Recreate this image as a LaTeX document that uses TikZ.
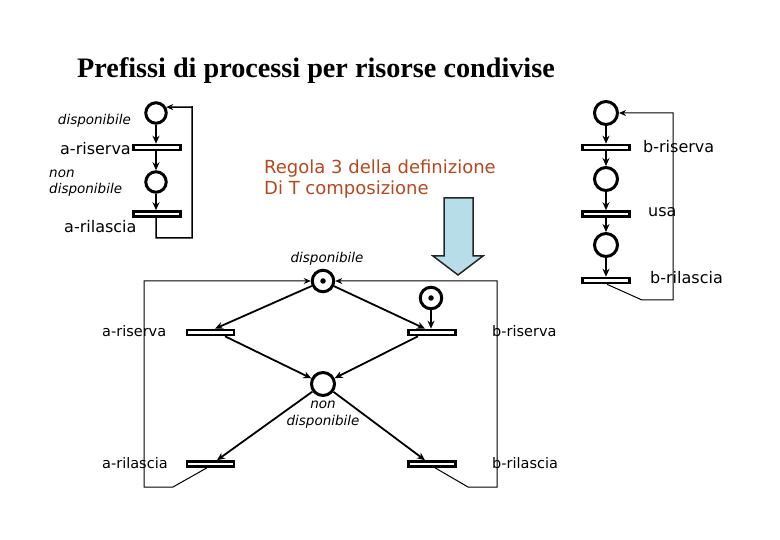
\documentclass[tikz,border=0pt]{standalone}
\usepackage{fontspec}
\setmainfont{DejaVu Sans}
\newfontfamily\titlefont{Liberation Serif}
\usetikzlibrary{arrows.meta}
\definecolor{regred}{HTML}{B5481E}
\definecolor{arrowblue}{HTML}{B7DEE8}
\begin{document}
\begin{tikzpicture}[x=1pt,y=-1pt,
  place/.style={circle,draw,line width=3pt,minimum size=#1,inner sep=0pt},
  place/.default=20.5pt,
  trans/.style={rectangle,draw,line width=2.4pt,fill=white,minimum width=47pt,minimum height=5.2pt,inner sep=0pt},
  arc/.style={-{Stealth[length=8pt,width=7pt]},line width=1.8pt},
  fbarr/.style={-{Stealth[length=7pt,width=6pt]},line width=#1},
  fbarr/.default=1pt,
  tok/.style={circle,fill,inner sep=0pt,minimum size=5.5pt},
  lblbig/.style={font=\fontsize{16}{18}\selectfont,inner sep=0pt},
  lbl/.style={font=\fontsize{14.5}{17}\selectfont,inner sep=0pt},
  lblit/.style={font=\fontsize{13.5}{16.5}\selectfont\itshape,inner sep=0pt,align=left},
]
\useasboundingbox (0,0) rectangle (780,540);

% title
\node[font=\titlefont\bfseries\fontsize{28.2}{31}\selectfont,inner sep=0pt] (title) at (316,71) {Prefissi di processi per risorse condivise};

% ---------- top-left net ----------
\node[place] (p1) at (156,113) {};
\node[trans] (t1) at (157,147.5) {};
\node[place] (p2) at (156,182) {};
\node[trans] (t2) at (157,214) {};
\draw[arc] (p1.south) -- (p1.south |- t1.north);
\draw[arc] (t1.south -| p1.south) -- (p2.north);
\draw[arc] (p2.south) -- (p2.south |- t2.north);
\coordinate (fl1) at (156,238);
\coordinate (fl2) at (192,238);
\coordinate (fl3) at (192,107);
\draw[fbarr=1.5pt] (t2.south -| p2.south) -- (fl1) -- (fl2) -- (fl3) -- (p1.30);
\node[lblit,anchor=east] (l1) at (131,121) {disponibile};
\node[lblbig,anchor=east] (l2) at (131,149) {a-riserva};
\node[lblit,anchor=west] (l3) at (49,183) {non\\disponibile};
\node[lblbig,anchor=west] (l4) at (64,227) {a-rilascia};

% ---------- top-right net ----------
\node[place=23pt] (q1) at (606,113) {};
\node[trans] (u1) at (606,147.5) {};
\node[place=23pt] (q2) at (606,179) {};
\node[trans] (u2) at (606,214) {};
\node[place=23pt] (q3) at (606,245) {};
\node[trans] (u3) at (606,280.5) {};
\draw[arc] (q1.south) -- (u1.north);
\draw[arc] (u1.south) -- (q2.north);
\draw[arc] (q2.south) -- (u2.north);
\draw[arc] (u2.south) -- (q3.north);
\draw[arc] (q3.south) -- (u3.north);
\coordinate (fr1) at (642,300);
\coordinate (fr2) at (673,300);
\coordinate (fr3) at (673,113);
\draw[fbarr] ([xshift=1pt]u3.south) -- (fr1) -- (fr2) -- (fr3) -- (q1.east);
\node[lblbig,anchor=west] (r1) at (643,147) {b-riserva};
\node[lblbig,anchor=west] (r2) at (648,212) {usa};
\node[lblbig,anchor=west] (r3) at (650,278) {b-rilascia};

% ---------- rule text and block arrow ----------
\node[font=\fontsize{18}{21}\selectfont,text=regred,anchor=north west,align=left,inner sep=0pt] (rule) at (264,160) {Regola 3 della definizione\\Di T composizione};
\draw[line width=1.5pt,fill=arrowblue,draw=black!85] (444,198) -- (473,198) -- (473,256) -- (483,256) -- (458,275) -- (433,256) -- (444,256) -- cycle;

% ---------- bottom (composed) net ----------
\node[place=21.5pt] (pd) at (323,281) {};
\node[tok] (pdt) at (pd) {};
\node[place=21.5pt] (pt) at (431,298) {};
\node[tok] (ptt) at (pt) {};
\node[trans] (ta) at (210.5,332.5) {};
\node[trans] (tb) at (432,332.5) {};
\node[place=23pt] (pn) at (323,384) {};
\node[trans] (tc) at (210.5,464) {};
\node[trans] (td) at (432,464) {};

\draw[arc] (pd) -- ([xshift=4.5pt]ta.north);
\draw[arc] (pd) -- ([xshift=-7pt]tb.north);
\draw[arc] (pt.south) -- (pt.south |- tb.north);
\draw[arc] ([xshift=14.5pt]ta.south) -- (pn);
\draw[arc] ([xshift=-14pt]tb.south) -- (pn);
\draw[arc] (pn) -- ([xshift=6.5pt]tc.north);
\draw[arc] (pn) -- ([xshift=-7pt]td.north);

\coordinate (bl1) at (173,487);
\coordinate (bl2) at (144,487);
\coordinate (bl3) at (144,281);
\coordinate (br1) at (468,487);
\coordinate (br2) at (497,487);
\coordinate (br3) at (497,281);
\draw[fbarr] ([xshift=-3.5pt]tc.south) -- (bl1) -- (bl2) -- (bl3) -- (pd.west);
\draw[fbarr] ([xshift=3pt]td.south) -- (br1) -- (br2) -- (br3) -- (pd.east);

\node[lblit,anchor=south] (d1) at (327,266) {disponibile};
\node[lblit,align=center,anchor=north] (d2) at (323,401) {non\\disponibile};
\node[lbl,anchor=west] (b1) at (102,331) {a-riserva};
\node[lbl,anchor=west] (b2) at (492,331) {b-riserva};
\node[lbl,anchor=west] (b3) at (102,463) {a-rilascia};
\node[lbl,anchor=west] (b4) at (492,463) {b-rilascia};
\end{tikzpicture}
\end{document}
